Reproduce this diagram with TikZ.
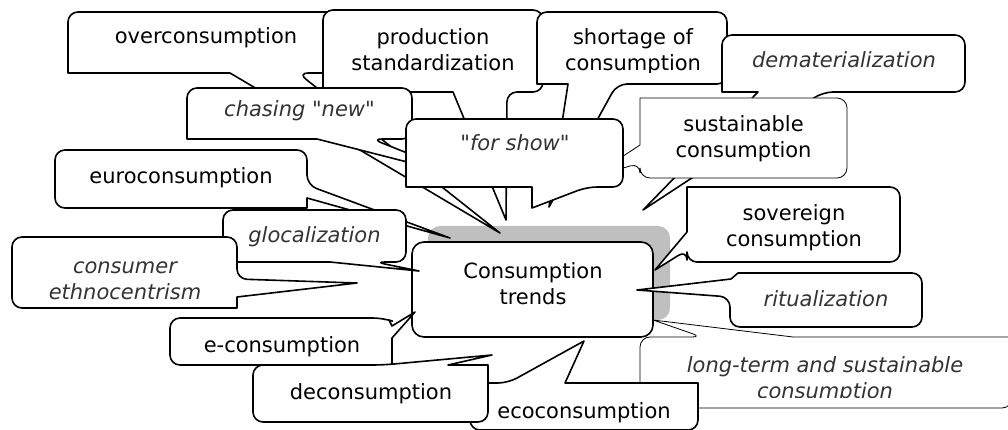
\documentclass[tikz,border=0pt]{standalone}
\usepackage{fontspec}
\setmainfont{DejaVu Sans}[Ligatures=TeXOff]
\tikzset{
  cb/.style={draw=black, fill=white, line width=1.6pt, rounded corners=10pt, line join=round},
  cbthin/.style={cb, line width=0.8pt},
  lab/.style={inner sep=0pt, align=center, font=\fontsize{21}{26}\selectfont, text=black},
  ilab/.style={inner sep=0pt, align=center, font=\fontsize{21}{26}\selectfont\itshape, text=black!80},
}
\begin{document}
\begin{tikzpicture}[x=1pt,y=-1pt]
\useasboundingbox (0,0) rectangle (1008,430);
% central box with shadow
\fill[black!25, rounded corners=12pt] (428,226) rectangle (670,320);
\draw[cb, rounded corners=12pt] (412,242) rectangle (653,337);
\node[lab] (trends) at (533,285.8) {\strut Consumption\\\strut trends};
% overconsumption
\draw[cb] (206,12) -- (344,12) -- (344,73) -- (298,73) [sharp corners] -- (500,233) -- (230,73) -- (68,73) [rounded corners=10pt] -- (68,12) -- cycle;
\node[lab] (over) at (206,38.8) {\strut overconsumption};
% production standardization
\draw[cb] (433,10) -- (543,10) -- (543,92) -- (507,92) [sharp corners] -- (506,220) -- (453,92) -- (323,92) [rounded corners=10pt] -- (323,10) -- cycle;
\node[lab] (prod) at (433,52.8) {\strut production\\\strut standardization};
% chasing new
\draw[cb] (300,88) -- (412,88) -- (412,139) -- (372,139) [sharp corners] -- (470,178) -- (317,139) -- (187,139) [rounded corners=10pt] -- (187,88) -- cycle;
\node[ilab] (chase) at (299.5,111.8) {\strut chasing "new"};
% shortage of consumption
\draw[cb] (632,12) -- (727,12) -- (727,84) -- (617,84) [sharp corners] -- (549,207) -- (568,84) -- (537,84) [rounded corners=10pt] -- (537,12) -- cycle;
\begin{scope}
\clip (537,12) rectangle (727,72.5);
\node[lab] (short) at (633,52.8) {\strut shortage of\\\strut consumption};
\end{scope}
% dematerialization
\draw[cb] (843,35) -- (965,35) -- (965,92) -- (823,92) [sharp corners] -- (643,210) -- (758,92) -- (722,92) [rounded corners=10pt] -- (722,35) -- cycle;
\node[ilab] (demat) at (844,62.8) {\strut dematerialization};
% sustainable consumption
\draw[cbthin] (743,98) -- (847,98) -- (847,178) -- (640,178) -- (640,163) [sharp corners] -- (590,178) -- (640,145) -- (640,98) [rounded corners=10pt] -- cycle;
\node[lab] (sust) at (743.5,139.8) {\strut sustainable\\\strut consumption};
% for show
\draw[cb] (515,119) -- (623,119) -- (623,187) -- (587,187) [sharp corners] -- (532,208) -- (532,187) -- (406,187) [rounded corners=10pt] -- (406,119) -- cycle;
\node[ilab] (show) at (515,145.8) {\strut "for show"};
% euroconsumption
\draw[cb] (181,150) -- (307,150) -- (307,185) [sharp corners] -- (450,238) -- (307,198) -- (307,208) [rounded corners=10pt] -- (55,208) -- (55,150) -- cycle;
\node[lab] (euro) at (181,178.8) {\strut euroconsumption};
% glocalization
\draw[cb] (314,210) -- (406,210) -- (406,262) -- (375,262) [sharp corners] -- (419,271) -- (330,262) -- (223,262) [rounded corners=10pt] -- (223,210) -- cycle;
\node[ilab] (gloc) at (314.5,237.8) {\strut glocalization};
% consumer ethnocentrism
\draw[cb] (124,237) -- (237,237) -- (237,279) [sharp corners] -- (357,283) -- (237,297) -- (237,308) [rounded corners=10pt] -- (12,308) -- (12,237) -- cycle;
\node[ilab] (ethno) at (125,280.8) {\strut consumer\\\strut ethnocentrism};
% e-consumption
\draw[cb] (281,318) -- (383,318) [sharp corners] -- (389,320) -- (392,326) -- (415,312) -- (392,338) -- (392,365) [rounded corners=10pt] -- (170,365) -- (170,318) -- cycle;
\node[lab] (econs) at (282,346.8) {\strut e-consumption};
% long-term and sustainable consumption
\draw[cbthin] (640,372) -- (640,337) -- (702,337) [sharp corners] -- (653,320) -- (793,337) -- (1012,337) [rounded corners=10pt] -- (1012,408) -- (640,408) -- cycle;
\begin{scope}
\clip (640,337) rectangle (1012,397);
\node[ilab] (long) at (825,379.8) {\strut long-term and sustainable\\\strut consumption};
\end{scope}
% ecoconsumption
\draw[cb] (470,406) -- (470,383) -- (508,383) [sharp corners] -- (584,341) -- (565,383) -- (698,383) [rounded corners=10pt] -- (698,430) -- (470,430) -- cycle;
\node[lab] (eco) at (584,412.8) {\strut ecoconsumption};
% deconsumption
\draw[cb] (253,394) -- (253,365) -- (383,365) [sharp corners] -- (492,355) -- (448,365) -- (488,365) [rounded corners=10pt] -- (488,422) -- (253,422) -- cycle;
\node[lab] (decons) at (371,393.8) {\strut deconsumption};
% sovereign consumption
\draw[cb] (794,187) -- (900,187) -- (900,262) -- (687,262) -- (687,250) [sharp corners] -- (655,270) -- (687,232) -- (687,187) [rounded corners=10pt] -- cycle;
\node[lab] (sov) at (794,228.8) {\strut sovereign\\\strut consumption};
% ritualization
\draw[cb] (922,300) -- (922,327) -- (730,327) -- (730,297) [sharp corners] -- (637,290) -- (731,279) -- (738,273) -- (826,273) [rounded corners=10pt] -- (922,273) -- cycle;
\node[ilab] (ritual) at (826,300.8) {\strut ritualization};
\end{tikzpicture}
\end{document}
